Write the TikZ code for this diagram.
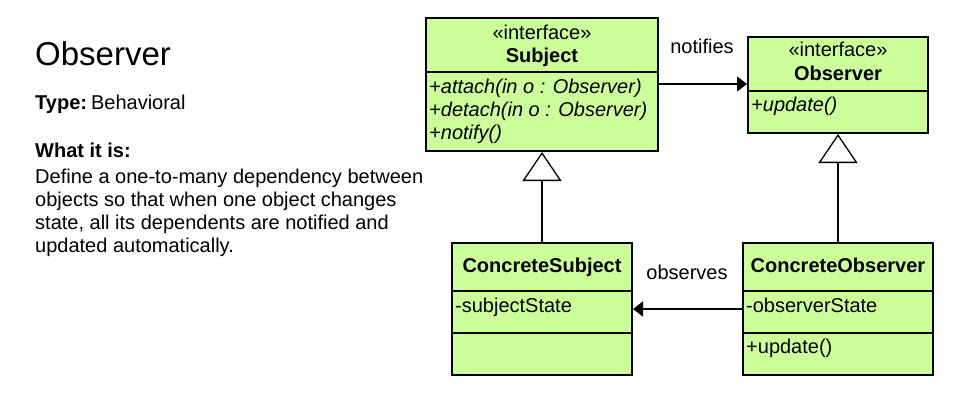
\documentclass[tikz,border=0pt]{standalone}
\usepackage{fontspec}
\setmainfont{Liberation Sans}
\usetikzlibrary{arrows.meta}
\definecolor{umlgreen}{HTML}{CCFF99}
\begin{document}
\begin{tikzpicture}[x=1pt,y=-1pt,
  cls/.style 2 args={rectangle, draw=black, line width=2pt, fill=umlgreen, inner sep=0pt, minimum width=#1, minimum height=#2},
  txt/.style={inner sep=0pt, font=\fontsize{20}{23}\selectfont},
  btxt/.style={inner sep=0pt, font=\fontsize{20}{23}\selectfont\bfseries},
  itxt/.style={inner sep=0pt, font=\fontsize{20}{23}\selectfont\itshape},
  sep/.style={line width=2pt},
  conn/.style={line width=1.3pt},
  assoc/.style={conn, -{Triangle[length=10pt, width=15pt]}},
  inherit/.style={conn, -{Triangle[open, fill=white, length=29pt, width=39pt]}}]
\useasboundingbox (0,0) rectangle (967,400);

% left description
\node[anchor=base west, inner sep=0pt, font=\fontsize{33}{38}\selectfont] (title) at (35,65) {Observer};
\node[txt, anchor=base west] (type) at (35,109) {\textbf{Type:}\hspace{0.2em}Behavioral};
\node[btxt, anchor=base west] (what) at (35,157) {What it is:};
\node[txt, anchor=base west] (d1) at (35,183) {Define a one-to-many dependency between};
\node[txt, anchor=base west] (d2) at (35,206) {objects so that when one object changes};
\node[txt, anchor=base west] (d3) at (35,229) {state, all its dependents are notified and};
\node[txt, anchor=base west] (d4) at (35,252) {updated automatically.};

% classes
\node[cls={232pt}{133pt}] (subj) at (542,84.5) {};
\node[cls={180pt}{96pt}] (obs) at (838,85) {};
\node[cls={180pt}{132pt}] (csub) at (542,309) {};
\node[cls={190pt}{132pt}] (cobs) at (838,309) {};

% compartments
\draw[sep] (subj.west |- 0,72) -- (subj.east |- 0,72);
\draw[sep] (obs.west |- 0,91) -- (obs.east |- 0,91);
\draw[sep] (csub.west |- 0,291) -- (csub.east |- 0,291);
\draw[sep] (csub.west |- 0,333) -- (csub.east |- 0,333);
\draw[sep] (cobs.west |- 0,291) -- (cobs.east |- 0,291);
\draw[sep] (cobs.west |- 0,333) -- (cobs.east |- 0,333);

% Subject texts
\node[txt, anchor=mid] (subjst) at (542,37) {«interface»};
\node[btxt, anchor=mid] (subjname) at (542,60) {Subject};
\node[itxt, anchor=mid west] (m1) at (429,91) {+attach(in o : Observer)};
\node[itxt, anchor=mid west] (m2) at (429,114) {+detach(in o : Observer)};
\node[itxt, anchor=mid west] (m3) at (429,137) {+notify()};

% Observer texts
\node[txt, anchor=mid] (obsst) at (838,54) {«interface»};
\node[btxt, anchor=mid] (obsname) at (838,78) {Observer};
\node[itxt, anchor=mid west] (om1) at (751,109) {+update()};

% ConcreteSubject texts
\node[btxt, anchor=mid] (csname) at (542,270) {ConcreteSubject};
\node[txt, anchor=mid west] (csa) at (455,310) {-subjectState};

% ConcreteObserver texts
\node[btxt, anchor=mid] (coname) at (838,270) {ConcreteObserver};
\node[txt, anchor=mid west] (coa) at (746,310) {-observerState};
\node[txt, anchor=mid west] (com) at (746,351) {+update()};

% connectors
\draw[assoc] (subj.east |- 0,84) -- (obs.west |- 0,84);
\node[txt, anchor=mid] (lnot) at (702,51) {notifies};
\draw[assoc] (cobs.west |- 0,309) -- (csub.east |- 0,309);
\node[txt, anchor=mid] (lobs) at (687,277) {observes};
\draw[inherit] (csub.north) -- (subj.south);
\draw[inherit] (cobs.north) -- (obs.south);
\end{tikzpicture}
\end{document}
